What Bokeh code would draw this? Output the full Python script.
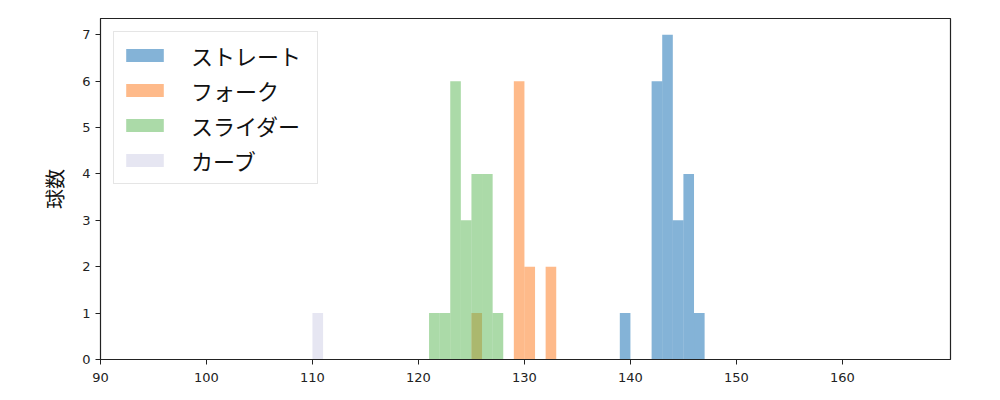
from bokeh.plotting import figure
from bokeh.models import FixedTicker, Range1d, Legend, LegendItem, ColumnDataSource
from bokeh.embed import file_html
from bokeh.resources import INLINE

# histogram data: bin left edges (km/h) and counts
straight_left = [139, 142, 143, 144, 145, 146]
straight_count = [1, 6, 7, 3, 4, 1]
fork_left = [125, 129, 130, 132]
fork_count = [1, 6, 2, 2]
slider_left = [121, 122, 123, 124, 125, 126, 127]
slider_count = [1, 1, 6, 3, 4, 4, 1]
curve_left = [110]
curve_count = [1]
bin_width = 1.0

series = [
    ("ストレート", straight_left, straight_count, "#0967af"),
    ("フォーク", fork_left, fork_count, "#fd7515"),
    ("スライダー", slider_left, slider_count, "#57b551"),
    ("カーブ", curve_left, curve_count, "#cdcde5"),
]
x_ticks = [90, 100, 110, 120, 130, 140, 150, 160]
y_ticks = [0, 1, 2, 3, 4, 5, 6, 7]

p = figure(width=984, height=384, output_backend="svg", toolbar_location=None,
           x_range=Range1d(90, 170.2), y_range=Range1d(0, 7.35),
           min_border_left=100, min_border_right=34, min_border_top=18, min_border_bottom=25)

items = []
for name, left, count, color in series:
    src = ColumnDataSource(dict(left=left, right=[l + bin_width for l in left],
                                top=count, bottom=[0] * len(left)))
    r = p.quad(left="left", right="right", top="top", bottom="bottom", source=src,
               fill_color=color, fill_alpha=0.5, line_color=None)
    items.append(LegendItem(label=name, renderers=[r]))

p.xgrid.visible = False
p.ygrid.visible = False
p.outline_line_color = "#222222"
p.outline_line_width = 1.2
p.background_fill_color = "white"

for ax in (p.xaxis, p.yaxis):
    ax.major_tick_out = 5
    ax.major_tick_in = 0
    ax.minor_tick_out = 0
    ax.minor_tick_in = 0
    ax.axis_line_color = "#222222"
    ax.major_tick_line_color = "#222222"
    ax.major_label_text_font = "DejaVu Sans"
    ax.major_label_text_font_size = "13px"
    ax.major_label_text_color = "#222222"

p.xaxis.major_label_standoff = 8
p.xaxis.ticker = FixedTicker(ticks=x_ticks)
p.yaxis.ticker = FixedTicker(ticks=y_ticks)
p.yaxis.axis_label = "球数"
p.yaxis.axis_label_text_font = "Noto Sans CJK JP"
p.yaxis.axis_label_text_font_size = "20px"
p.yaxis.axis_label_text_font_style = "normal"
p.yaxis.axis_label_text_color = "#111111"
p.yaxis.axis_label_standoff = 10

legend = Legend(items=items, location="top_left")
legend.margin = 13
legend.padding = 7
legend.spacing = 3
legend.glyph_width = 47
legend.glyph_height = 16
legend.label_height = 29
legend.label_width = 119
legend.label_standoff = 23
legend.label_text_font = "Noto Sans CJK JP"
legend.label_text_font_size = "22px"
legend.label_text_color = "#111111"
legend.border_line_color = "#cccccc"
legend.border_line_width = 1
legend.background_fill_alpha = 0.8
p.add_layout(legend)

open("out.html", "w").write(file_html(p, INLINE))
